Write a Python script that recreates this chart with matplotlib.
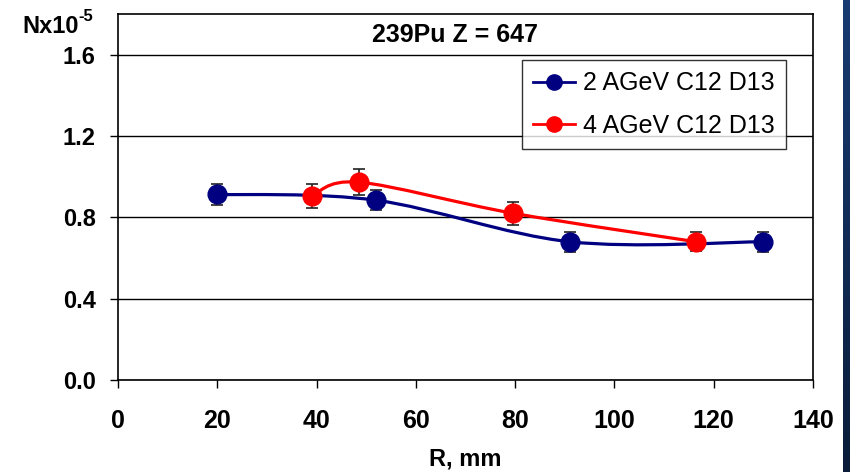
import numpy as np
import matplotlib.pyplot as plt
from matplotlib.path import Path
from matplotlib.patches import PathPatch
from matplotlib.lines import Line2D
from matplotlib.colors import LinearSegmentedColormap

# data (N x 1e-5 vs R in mm)
r_2agev = [20, 52, 91, 130]
n_2agev = [0.913, 0.884, 0.68, 0.68]
e_2agev = [0.05, 0.05, 0.05, 0.05]

r_4agev = [39, 48.5, 79.6, 116.4]
n_4agev = [0.904, 0.973, 0.82, 0.68]
e_4agev = [0.06, 0.065, 0.057, 0.047]

labels = ['2 AGeV C12 D13', '4 AGeV C12 D13']
colors = ['#000080', '#ff0000']


def smooth_path(x, y):
    # Excel-like smoothed line: Catmull-Rom segments as cubic beziers
    p = np.column_stack([x, y]).astype(float)
    n = len(p)
    verts = [p[0]]
    codes = [Path.MOVETO]
    for i in range(n - 1):
        p0 = p[i - 1] if i > 0 else p[i]
        p3 = p[i + 2] if i + 2 < n else p[i + 1]
        c1 = p[i] + (p[i + 1] - p0) / 6
        c2 = p[i + 1] - (p3 - p[i]) / 6
        verts += [c1, c2, p[i + 1]]
        codes += [Path.CURVE4] * 3
    return Path(verts, codes)


def main() -> None:
    plt.rcParams['font.family'] = ['Liberation Sans', 'DejaVu Sans']

    fig = plt.figure(figsize=(8.5, 4.72), dpi=100)
    ax = fig.add_axes([118 / 850, 92 / 472, 695 / 850, 366 / 472])

    # dark strip at the right edge
    gax = fig.add_axes([843 / 850, 0, 7 / 850, 1])
    grad = np.linspace(0, 1, 100).reshape(-1, 1)
    gax.imshow(grad, aspect='auto',
               cmap=LinearSegmentedColormap.from_list('strip', ['#173a72', '#0a1c38']))
    gax.set_axis_off()

    series = [(r_2agev, n_2agev, e_2agev), (r_4agev, n_4agev, e_4agev)]
    for k, (r, n, e) in enumerate(series):
        ax.add_patch(PathPatch(smooth_path(r, n), fill=False, edgecolor=colors[k],
                               lw=2.3, zorder=3 + 2 * k))
        ax.errorbar(r, n, yerr=e, fmt='none', ecolor='#222222', elinewidth=1.2,
                    capsize=4, capthick=1.2, zorder=3 + 2 * k)
        ax.plot(r, n, 'o', color=colors[k], ms=13.5, mec=colors[k], zorder=4 + 2 * k)

    ax.set_xlim(0, 140)
    ax.set_ylim(0, 1.8)
    ax.set_xticks(np.arange(0, 141, 20))
    ax.set_yticks([0.0, 0.4, 0.8, 1.2, 1.6])
    ax.set_yticklabels(['0.0', '0.4', '0.8', '1.2', '1.6'])
    ax.yaxis.grid(True, color='black', lw=1)
    ax.set_axisbelow(True)
    for s in ax.spines.values():
        s.set_color('black')
        s.set_linewidth(1.2)
    ax.tick_params(axis='y', direction='out', length=6, width=1, pad=10, labelsize=17)
    ax.tick_params(axis='x', direction='out', length=6, width=1, pad=15, labelsize=17)
    narrow = ['Liberation Sans Narrow', 'Liberation Sans']
    for t in ax.get_yticklabels():
        t.set_fontweight('bold')
    for t in ax.get_xticklabels():
        t.set_fontweight('bold')
        t.set_family(narrow)
        t.set_fontsize(18)

    ax.set_xlabel('R, mm', fontsize=17, fontweight='bold', labelpad=10, family=narrow)
    # y-axis unit label, drawn as "Nx10" with a raised "-5"
    fig.text(22 / 850, 1 - 33 / 472, 'Nx10', fontsize=17, fontweight='bold',
             ha='left', va='baseline')
    fig.text(78 / 850, 1 - 21 / 472, '-5', fontsize=12, fontweight='bold',
             ha='left', va='baseline')
    ax.text(0.485, 0.943, '239Pu Z = 647', transform=ax.transAxes, ha='center',
            va='center', fontsize=18, fontweight='bold')

    handles = [Line2D([], [], color=c, lw=2, marker='o', ms=11) for c in colors]
    leg = ax.legend(handles, labels, loc='upper right', bbox_to_anchor=(0.961, 0.874),
                    borderaxespad=0, fontsize=18, frameon=True, fancybox=False,
                    handlelength=1.7, handletextpad=0.3, borderpad=0.45,
                    labelspacing=0.75)
    leg.get_frame().set_edgecolor('black')
    leg.get_frame().set_linewidth(1)
    leg.set_zorder(10)

    fig.savefig('out.png', dpi=100)


if __name__ == '__main__':
    main()
